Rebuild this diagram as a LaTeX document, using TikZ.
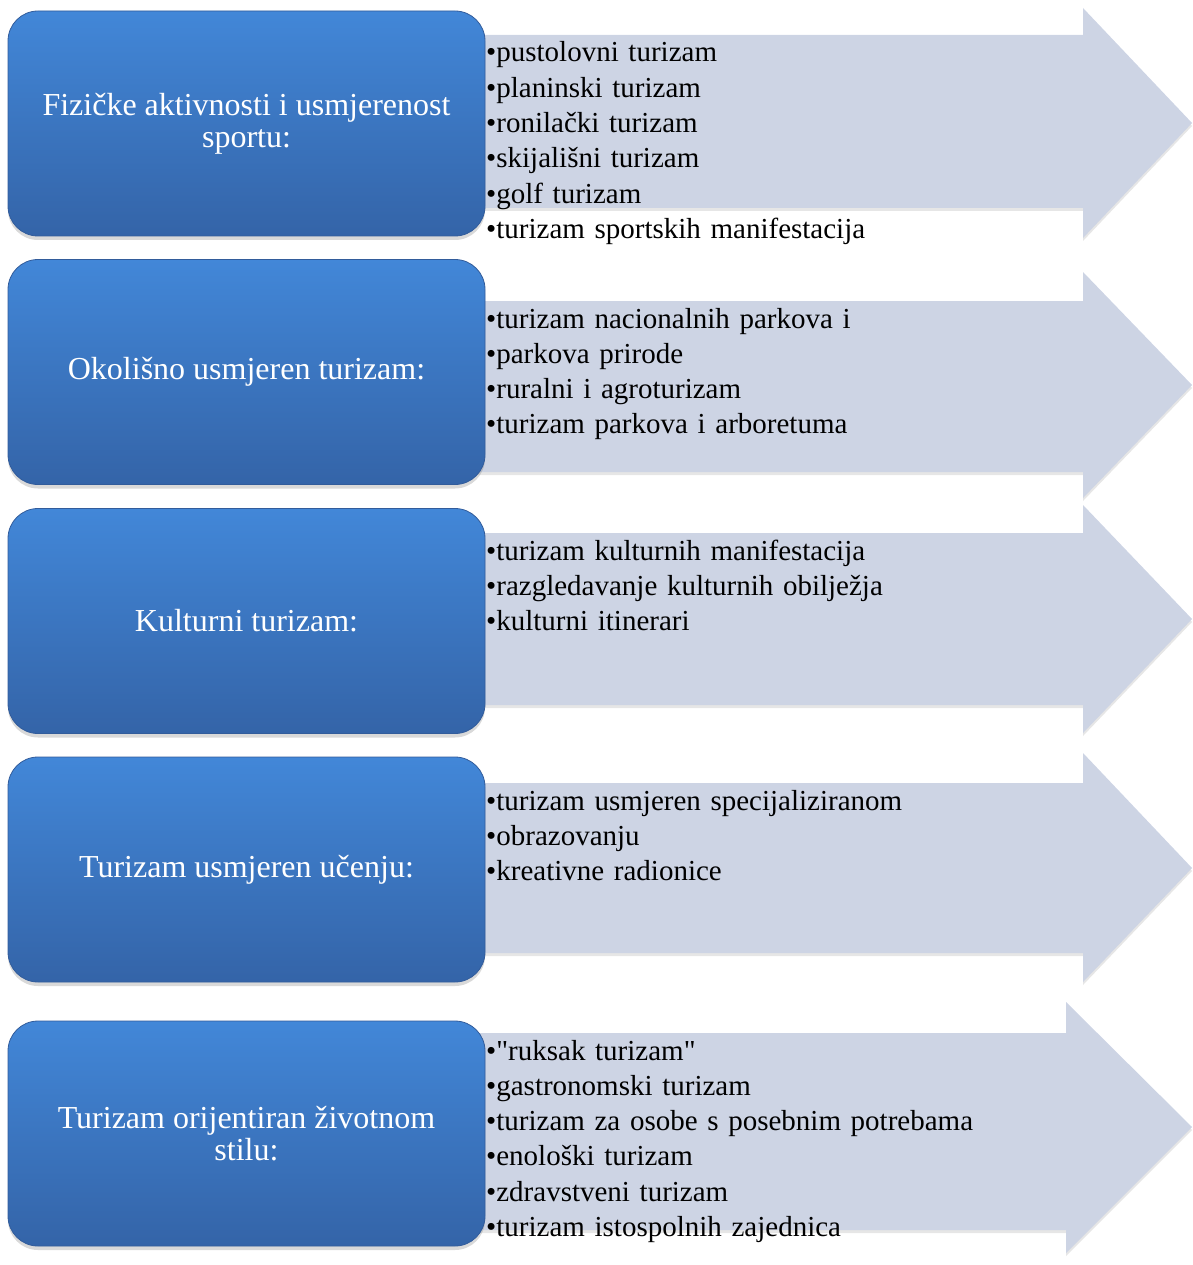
\documentclass[tikz,border=0pt]{standalone}
\usepackage{fontspec}
\setmainfont{Liberation Serif}
\newfontfamily\plainquotes{Liberation Serif}
\usepackage{tikz}
\usetikzlibrary{shadows}
\definecolor{boxtop}{RGB}{66,135,216}
\definecolor{boxbottom}{RGB}{52,100,168}
\definecolor{boxedge}{RGB}{50,92,155}
\definecolor{arrowfill}{RGB}{205,212,228}

\tikzset{
  catbox/.style={rounded corners=30pt, minimum width=477pt, minimum height=225pt,
    top color=boxtop, bottom color=boxbottom, draw=boxedge, line width=0.8pt,
    text=white, align=center, font=\fontsize{32}{32}\selectfont,
    drop shadow={shadow xshift=0pt, shadow yshift=-4pt, opacity=0.3}},
  listarrow/.style={fill=arrowfill,
    drop shadow={shadow xshift=0pt, shadow yshift=-3pt, opacity=0.2}},
  itemlist/.style={anchor=base west, inner sep=0pt, text width=700pt, align=left,
    font=\fontsize{29}{35.3}\selectfont}
}

\begin{document}
\begin{tikzpicture}[x=1pt,y=-1pt]
\useasboundingbox (0,0) rectangle (1192,1265);
% Draw the grey arrows
\path[listarrow] (470,35) -- (1083,35) -- (1083,8) -- (1192,123) -- (1083,238) -- (1083,208) -- (470,208) -- cycle;
\path[listarrow] (470,301) -- (1083,301) -- (1083,272) -- (1192,385) -- (1083,498) -- (1083,472) -- (470,472) -- cycle;
\path[listarrow] (470,533) -- (1083,533) -- (1083,505) -- (1192,619) -- (1083,733) -- (1083,705) -- (470,705) -- cycle;
\path[listarrow] (470,783) -- (1083,783) -- (1083,753) -- (1192,868) -- (1083,982) -- (1083,953) -- (470,953) -- cycle;
\path[listarrow] (470,1033) -- (1066,1033) -- (1066,1002) -- (1192,1127) -- (1066,1253) -- (1066,1230) -- (470,1230) -- cycle;
% Draw the blue boxes
\node[catbox] (sport) at (246.5,123.5) {Fizičke aktivnosti i usmjerenost\\sportu:};
\node[catbox] (okolis) at (246.5,372) {Okolišno usmjeren turizam:};
\node[catbox] (kultura) at (246.5,621) {Kulturni turizam:};
\node[catbox] (ucenje) at (246.5,869.5) {Turizam usmjeren učenju:};
\node[catbox] (stil) at (246.5,1133.5) {Turizam orijentiran životnom\\stilu:};
% Add the lists inside the arrows
\node[itemlist] (sportlist) at (486,62) {•pustolovni turizam\\•planinski turizam\\•ronilački turizam\\•skijališni turizam\\•golf turizam\\•turizam sportskih manifestacija};
\node[itemlist] (okolislist) at (486,328) {•turizam nacionalnih parkova i\\•parkova prirode\\•ruralni i agroturizam\\•turizam parkova i arboretuma};
\node[itemlist] (kulturalist) at (486,560) {•turizam kulturnih manifestacija\\•razgledavanje kulturnih obilježja\\•kulturni itinerari};
\node[itemlist] (ucenjelist) at (486,810) {•turizam usmjeren specijaliziranom\\•obrazovanju\\•kreativne radionice};
\node[itemlist] (stillist) at (486,1060) {•{\plainquotes "ruksak turizam"}\\•gastronomski turizam\\•turizam za osobe s posebnim potrebama\\•enološki turizam\\•zdravstveni turizam\\•turizam istospolnih zajednica};
\end{tikzpicture}
\end{document}
